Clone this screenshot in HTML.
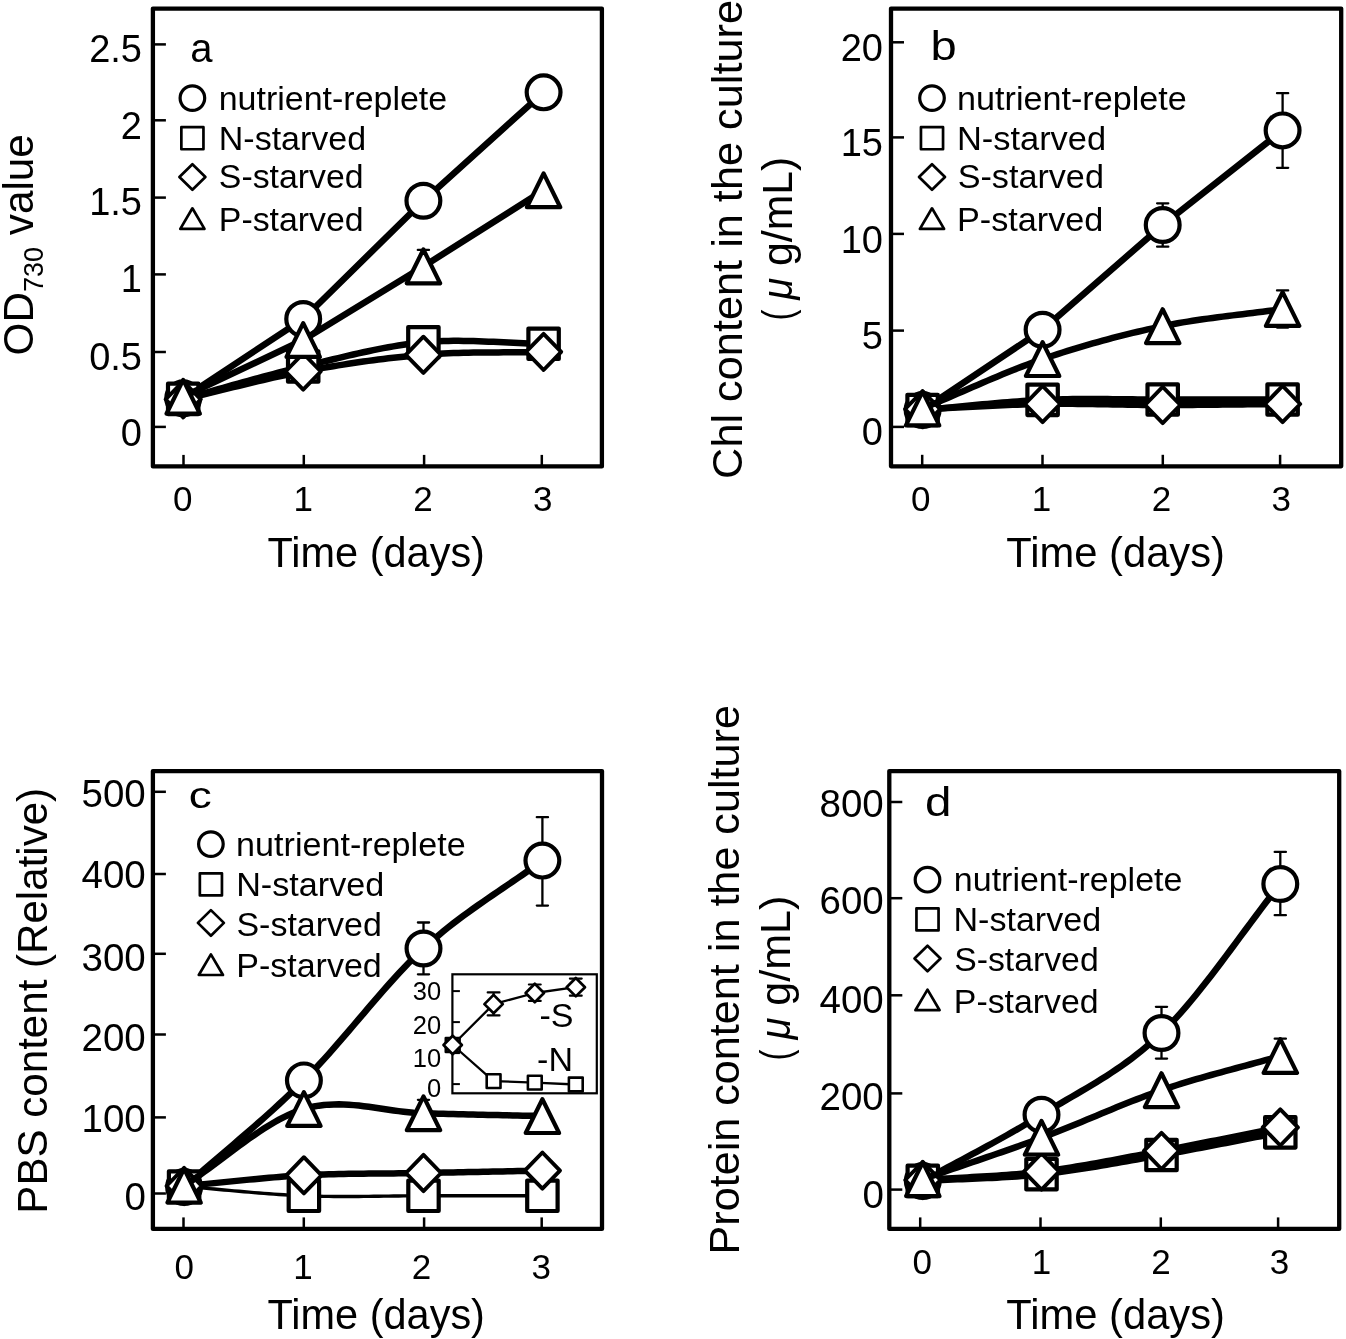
<!DOCTYPE html>
<html><head><meta charset="utf-8"><style>
html,body{margin:0;padding:0;background:#fff;}
body{width:1346px;height:1339px;overflow:hidden;font-family:"Liberation Sans", sans-serif;}
svg{display:block;will-change:transform;-webkit-font-smoothing:antialiased;}
</style></head><body>
<svg width="1346" height="1339" viewBox="0 0 1346 1339" font-family='"Liberation Sans", sans-serif'>
<rect width="1346" height="1339" fill="#fff"/>
<rect x="152.9" y="8.6" width="449" height="457.8" fill="none" stroke="#000" stroke-width="4.3" stroke-linejoin="round"/>
<path d="M183.5 466.4V454.9" stroke="#000" stroke-width="2.5"/>
<path d="M303.8 466.4V454.9" stroke="#000" stroke-width="2.5"/>
<path d="M424.1 466.4V454.9" stroke="#000" stroke-width="2.5"/>
<path d="M541.8 466.4V454.9" stroke="#000" stroke-width="2.5"/>
<path d="M152.9 426.9H165.9" stroke="#000" stroke-width="2.5"/>
<text x="142" y="445.6" font-size="38" text-anchor="end">0</text>
<path d="M152.9 352H165.9" stroke="#000" stroke-width="2.5"/>
<text x="142" y="369.6" font-size="38" text-anchor="end">0.5</text>
<path d="M152.9 274.4H165.9" stroke="#000" stroke-width="2.5"/>
<text x="142" y="291.8" font-size="38" text-anchor="end">1</text>
<path d="M152.9 197.6H165.9" stroke="#000" stroke-width="2.5"/>
<text x="142" y="215.4" font-size="38" text-anchor="end">1.5</text>
<path d="M152.9 120.3H165.9" stroke="#000" stroke-width="2.5"/>
<text x="142" y="139" font-size="38" text-anchor="end">2</text>
<path d="M152.9 44.4H165.9" stroke="#000" stroke-width="2.5"/>
<text x="142" y="61.6" font-size="38" text-anchor="end">2.5</text>
<text x="182.8" y="511.2" font-size="35" text-anchor="middle">0</text>
<text x="303.2" y="511.2" font-size="35" text-anchor="middle">1</text>
<text x="423" y="511.2" font-size="35" text-anchor="middle">2</text>
<text x="542.8" y="511.2" font-size="35" text-anchor="middle">3</text>
<path d="M183.2 398.2 L303.2 319 L423.4 200.8 L543.6 92.35" fill="none" stroke="#000" stroke-width="6.5" stroke-linejoin="round" stroke-linecap="round"/>
<circle cx="183.2" cy="398.2" r="16.9" fill="#fff" stroke="#000" stroke-width="4.2"/>
<circle cx="303.2" cy="319" r="16.9" fill="#fff" stroke="#000" stroke-width="4.2"/>
<circle cx="423.4" cy="200.8" r="16.9" fill="#fff" stroke="#000" stroke-width="4.2"/>
<circle cx="543.6" cy="92.35" r="16.9" fill="#fff" stroke="#000" stroke-width="4.2"/>
<path d="M183.2 398.9 L188.2 397.54 L193.2 396.17 L198.2 394.79 L203.2 393.41 L208.2 392.01 L213.2 390.61 L218.19 389.2 L223.19 387.8 L228.19 386.39 L233.19 384.98 L238.19 383.58 L243.19 382.19 L248.19 380.8 L253.19 379.42 L258.19 378.05 L263.19 376.69 L268.19 375.35 L273.19 374.02 L278.19 372.71 L283.19 371.43 L288.19 370.16 L293.19 368.91 L298.2 367.69 L303.2 366.5 L308.2 365.31 L313.21 364.11 L318.22 362.91 L323.22 361.69 L328.23 360.48 L333.24 359.27 L338.24 358.07 L343.25 356.87 L348.26 355.7 L353.27 354.53 L358.28 353.39 L363.29 352.28 L368.3 351.2 L373.31 350.15 L378.32 349.13 L383.33 348.16 L388.34 347.23 L393.35 346.35 L398.35 345.52 L403.36 344.75 L408.37 344.04 L413.38 343.39 L418.39 342.81 L423.4 342.3 L428.41 341.87 L433.42 341.53 L438.42 341.26 L443.43 341.06 L448.44 340.93 L453.45 340.87 L458.46 340.86 L463.47 340.9 L468.47 340.98 L473.48 341.1 L478.49 341.26 L483.5 341.44 L488.51 341.65 L493.52 341.87 L498.52 342.11 L503.53 342.35 L508.54 342.59 L513.55 342.82 L518.56 343.05 L523.57 343.25 L528.57 343.44 L533.58 343.59 L538.59 343.72 L543.6 343.8" fill="none" stroke="#000" stroke-width="6.5" stroke-linejoin="round" stroke-linecap="round"/>
<rect x="168" y="383.7" width="30.4" height="30.4" fill="#fff" stroke="#000" stroke-width="4.2" stroke-linejoin="round"/>
<rect x="288" y="351.3" width="30.4" height="30.4" fill="#fff" stroke="#000" stroke-width="4.2" stroke-linejoin="round"/>
<rect x="408.2" y="327.1" width="30.4" height="30.4" fill="#fff" stroke="#000" stroke-width="4.2" stroke-linejoin="round"/>
<rect x="528.4" y="328.6" width="30.4" height="30.4" fill="#fff" stroke="#000" stroke-width="4.2" stroke-linejoin="round"/>
<path d="M183.2 399.4 L188.2 398.23 L193.2 397.04 L198.2 395.84 L203.2 394.62 L208.2 393.4 L213.2 392.16 L218.19 390.93 L223.19 389.69 L228.19 388.45 L233.19 387.21 L238.19 385.98 L243.19 384.75 L248.19 383.53 L253.19 382.33 L258.19 381.14 L263.19 379.97 L268.19 378.82 L273.19 377.69 L278.19 376.58 L283.19 375.5 L288.19 374.45 L293.19 373.43 L298.2 372.45 L303.2 371.5 L308.2 370.58 L313.21 369.67 L318.22 368.78 L323.22 367.91 L328.23 367.05 L333.24 366.21 L338.24 365.39 L343.25 364.59 L348.26 363.81 L353.27 363.05 L358.28 362.31 L363.29 361.59 L368.3 360.89 L373.31 360.21 L378.32 359.56 L383.33 358.93 L388.34 358.32 L393.35 357.74 L398.35 357.19 L403.36 356.66 L408.37 356.15 L413.38 355.67 L418.39 355.22 L423.4 354.8 L428.41 354.42 L433.42 354.08 L438.42 353.78 L443.43 353.52 L448.44 353.29 L453.45 353.1 L458.46 352.94 L463.47 352.81 L468.47 352.7 L473.48 352.61 L478.49 352.54 L483.5 352.49 L488.51 352.44 L493.52 352.41 L498.52 352.38 L503.53 352.36 L508.54 352.33 L513.55 352.3 L518.56 352.27 L523.57 352.22 L528.57 352.17 L533.58 352.1 L538.59 352.01 L543.6 351.9" fill="none" stroke="#000" stroke-width="6.5" stroke-linejoin="round" stroke-linecap="round"/>
<path d="M183.2 381.3L200.8 399.4L183.2 417.5L165.6 399.4Z" fill="#fff" stroke="#000" stroke-width="3.9" stroke-linejoin="round"/>
<path d="M303.2 353.4L320.8 371.5L303.2 389.6L285.6 371.5Z" fill="#fff" stroke="#000" stroke-width="3.9" stroke-linejoin="round"/>
<path d="M423.4 336.7L441 354.8L423.4 372.9L405.8 354.8Z" fill="#fff" stroke="#000" stroke-width="3.9" stroke-linejoin="round"/>
<path d="M543.6 333.8L561.2 351.9L543.6 370L526 351.9Z" fill="#fff" stroke="#000" stroke-width="3.9" stroke-linejoin="round"/>
<path d="M183.2 396.8 L303.2 340 L423.4 266.4 L543.6 190.3" fill="none" stroke="#000" stroke-width="6.5" stroke-linejoin="round" stroke-linecap="round"/>
<path d="M423.4 249.9V282.9M417.8 249.9H429M417.8 282.9H429" fill="none" stroke="#000" stroke-width="2.3" stroke-linecap="round"/>
<path d="M183.2 379.9L199.9 413.7L166.5 413.7Z" fill="#fff" stroke="#000" stroke-width="4.2" stroke-linejoin="round"/>
<path d="M303.2 323.1L319.9 356.9L286.5 356.9Z" fill="#fff" stroke="#000" stroke-width="4.2" stroke-linejoin="round"/>
<path d="M423.4 249.5L440.1 283.3L406.7 283.3Z" fill="#fff" stroke="#000" stroke-width="4.2" stroke-linejoin="round"/>
<path d="M543.6 173.4L560.3 207.2L526.9 207.2Z" fill="#fff" stroke="#000" stroke-width="4.2" stroke-linejoin="round"/>
<rect x="891" y="8.6" width="450.2" height="457.7" fill="none" stroke="#000" stroke-width="4.3" stroke-linejoin="round"/>
<path d="M922.2 466.3V454.8" stroke="#000" stroke-width="2.5"/>
<path d="M1042.5 466.3V454.8" stroke="#000" stroke-width="2.5"/>
<path d="M1162.8 466.3V454.8" stroke="#000" stroke-width="2.5"/>
<path d="M1280.1 466.3V454.8" stroke="#000" stroke-width="2.5"/>
<path d="M891 426.9H904" stroke="#000" stroke-width="2.5"/>
<text x="883" y="445.4" font-size="38" text-anchor="end">0</text>
<path d="M891 330.6H904" stroke="#000" stroke-width="2.5"/>
<text x="883" y="349.2" font-size="38" text-anchor="end">5</text>
<path d="M891 233.9H904" stroke="#000" stroke-width="2.5"/>
<text x="883" y="252.6" font-size="38" text-anchor="end">10</text>
<path d="M891 137.4H904" stroke="#000" stroke-width="2.5"/>
<text x="883" y="156.2" font-size="38" text-anchor="end">15</text>
<path d="M891 42.3H904" stroke="#000" stroke-width="2.5"/>
<text x="883" y="60.6" font-size="38" text-anchor="end">20</text>
<text x="920.8" y="510.8" font-size="35" text-anchor="middle">0</text>
<text x="1041.4" y="510.8" font-size="35" text-anchor="middle">1</text>
<text x="1161.5" y="510.8" font-size="35" text-anchor="middle">2</text>
<text x="1281.2" y="510.8" font-size="35" text-anchor="middle">3</text>
<path d="M922.6 410 L1042.6 329.8 L1162.7 225 L1282.6 130.4" fill="none" stroke="#000" stroke-width="6.5" stroke-linejoin="round" stroke-linecap="round"/>
<path d="M1162.7 203.3V246.7M1157.1 203.3H1168.3M1157.1 246.7H1168.3" fill="none" stroke="#000" stroke-width="2.3" stroke-linecap="round"/>
<path d="M1282.6 93.2V167.8M1277 93.2H1288.2M1277 167.8H1288.2" fill="none" stroke="#000" stroke-width="2.3" stroke-linecap="round"/>
<circle cx="922.6" cy="410" r="16.9" fill="#fff" stroke="#000" stroke-width="4.2"/>
<circle cx="1042.6" cy="329.8" r="16.9" fill="#fff" stroke="#000" stroke-width="4.2"/>
<circle cx="1162.7" cy="225" r="16.9" fill="#fff" stroke="#000" stroke-width="4.2"/>
<circle cx="1282.6" cy="130.4" r="16.9" fill="#fff" stroke="#000" stroke-width="4.2"/>
<path d="M922.6 410 L927.6 409.57 L932.6 409.13 L937.6 408.67 L942.6 408.2 L947.6 407.73 L952.6 407.25 L957.6 406.76 L962.6 406.27 L967.6 405.79 L972.59 405.3 L977.59 404.82 L982.59 404.34 L987.59 403.88 L992.59 403.42 L997.59 402.98 L1002.59 402.55 L1007.59 402.14 L1012.59 401.74 L1017.59 401.37 L1022.59 401.02 L1027.6 400.7 L1032.6 400.4 L1037.6 400.14 L1042.6 399.9 L1047.6 399.7 L1052.61 399.53 L1057.61 399.38 L1062.61 399.27 L1067.62 399.18 L1072.62 399.11 L1077.63 399.06 L1082.63 399.03 L1087.64 399.02 L1092.64 399.03 L1097.65 399.04 L1102.66 399.07 L1107.66 399.1 L1112.67 399.15 L1117.67 399.19 L1122.68 399.24 L1127.68 399.3 L1132.69 399.34 L1137.69 399.39 L1142.69 399.43 L1147.7 399.46 L1152.7 399.49 L1157.7 399.5 L1162.7 399.5 L1167.7 399.49 L1172.7 399.49 L1177.7 399.48 L1182.69 399.48 L1187.69 399.47 L1192.69 399.47 L1197.69 399.47 L1202.68 399.47 L1207.68 399.47 L1212.67 399.47 L1217.67 399.47 L1222.66 399.48 L1227.66 399.48 L1232.65 399.48 L1237.65 399.48 L1242.64 399.49 L1247.64 399.49 L1252.63 399.49 L1257.62 399.49 L1262.62 399.5 L1267.61 399.5 L1272.61 399.5 L1277.6 399.5 L1282.6 399.5" fill="none" stroke="#000" stroke-width="6.5" stroke-linejoin="round" stroke-linecap="round"/>
<rect x="907.4" y="394.8" width="30.4" height="30.4" fill="#fff" stroke="#000" stroke-width="4.2" stroke-linejoin="round"/>
<rect x="1027.4" y="384.7" width="30.4" height="30.4" fill="#fff" stroke="#000" stroke-width="4.2" stroke-linejoin="round"/>
<rect x="1147.5" y="384.3" width="30.4" height="30.4" fill="#fff" stroke="#000" stroke-width="4.2" stroke-linejoin="round"/>
<rect x="1267.4" y="384.3" width="30.4" height="30.4" fill="#fff" stroke="#000" stroke-width="4.2" stroke-linejoin="round"/>
<path d="M922.6 409.2 L927.6 408.98 L932.6 408.75 L937.6 408.51 L942.6 408.26 L947.6 408.01 L952.6 407.75 L957.6 407.5 L962.6 407.24 L967.6 406.98 L972.59 406.72 L977.59 406.46 L982.59 406.21 L987.59 405.97 L992.59 405.73 L997.59 405.5 L1002.59 405.27 L1007.59 405.06 L1012.59 404.86 L1017.59 404.68 L1022.59 404.51 L1027.6 404.35 L1032.6 404.22 L1037.6 404.1 L1042.6 404 L1047.6 403.92 L1052.61 403.87 L1057.61 403.84 L1062.61 403.83 L1067.62 403.84 L1072.62 403.86 L1077.63 403.9 L1082.63 403.95 L1087.64 404.01 L1092.64 404.08 L1097.65 404.16 L1102.66 404.24 L1107.66 404.32 L1112.67 404.41 L1117.67 404.5 L1122.68 404.59 L1127.68 404.67 L1132.69 404.75 L1137.69 404.82 L1142.69 404.88 L1147.7 404.93 L1152.7 404.97 L1157.7 404.99 L1162.7 405 L1167.7 405 L1172.7 404.99 L1177.7 404.97 L1182.69 404.95 L1187.69 404.92 L1192.69 404.89 L1197.69 404.85 L1202.68 404.81 L1207.68 404.77 L1212.67 404.73 L1217.67 404.68 L1222.66 404.62 L1227.66 404.57 L1232.65 404.52 L1237.65 404.46 L1242.64 404.41 L1247.64 404.35 L1252.63 404.3 L1257.62 404.24 L1262.62 404.19 L1267.61 404.14 L1272.61 404.09 L1277.6 404.04 L1282.6 404" fill="none" stroke="#000" stroke-width="6.5" stroke-linejoin="round" stroke-linecap="round"/>
<path d="M922.6 391.1L940.2 409.2L922.6 427.3L905 409.2Z" fill="#fff" stroke="#000" stroke-width="3.9" stroke-linejoin="round"/>
<path d="M1042.6 385.9L1060.2 404L1042.6 422.1L1025 404Z" fill="#fff" stroke="#000" stroke-width="3.9" stroke-linejoin="round"/>
<path d="M1162.7 386.9L1180.3 405L1162.7 423.1L1145.1 405Z" fill="#fff" stroke="#000" stroke-width="3.9" stroke-linejoin="round"/>
<path d="M1282.6 385.9L1300.2 404L1282.6 422.1L1265 404Z" fill="#fff" stroke="#000" stroke-width="3.9" stroke-linejoin="round"/>
<path d="M922.6 408.5 L927.6 406.43 L932.6 404.33 L937.6 402.21 L942.6 400.08 L947.6 397.92 L952.6 395.76 L957.6 393.59 L962.6 391.42 L967.6 389.25 L972.59 387.08 L977.59 384.92 L982.59 382.77 L987.59 380.63 L992.59 378.51 L997.59 376.42 L1002.59 374.34 L1007.59 372.3 L1012.59 370.29 L1017.59 368.31 L1022.59 366.38 L1027.6 364.49 L1032.6 362.64 L1037.6 360.84 L1042.6 359.1 L1047.6 357.4 L1052.61 355.73 L1057.61 354.09 L1062.61 352.48 L1067.62 350.9 L1072.62 349.35 L1077.63 347.82 L1082.63 346.33 L1087.64 344.86 L1092.64 343.43 L1097.65 342.02 L1102.66 340.64 L1107.66 339.28 L1112.67 337.96 L1117.67 336.66 L1122.68 335.39 L1127.68 334.15 L1132.69 332.93 L1137.69 331.75 L1142.69 330.58 L1147.7 329.45 L1152.7 328.34 L1157.7 327.26 L1162.7 326.2 L1167.7 325.18 L1172.7 324.22 L1177.7 323.3 L1182.69 322.42 L1187.69 321.59 L1192.69 320.8 L1197.69 320.03 L1202.68 319.3 L1207.68 318.6 L1212.67 317.92 L1217.67 317.26 L1222.66 316.62 L1227.66 315.99 L1232.65 315.37 L1237.65 314.76 L1242.64 314.15 L1247.64 313.54 L1252.63 312.93 L1257.62 312.31 L1262.62 311.68 L1267.61 311.04 L1272.61 310.38 L1277.6 309.7 L1282.6 309" fill="none" stroke="#000" stroke-width="6.5" stroke-linejoin="round" stroke-linecap="round"/>
<path d="M1282.6 290.4V327.6M1277 290.4H1288.2M1277 327.6H1288.2" fill="none" stroke="#000" stroke-width="2.3" stroke-linecap="round"/>
<path d="M922.6 391.6L939.3 425.4L905.9 425.4Z" fill="#fff" stroke="#000" stroke-width="4.2" stroke-linejoin="round"/>
<path d="M1042.6 342.2L1059.3 376L1025.9 376Z" fill="#fff" stroke="#000" stroke-width="4.2" stroke-linejoin="round"/>
<path d="M1162.7 309.3L1179.4 343.1L1146 343.1Z" fill="#fff" stroke="#000" stroke-width="4.2" stroke-linejoin="round"/>
<path d="M1282.6 292.1L1299.3 325.9L1265.9 325.9Z" fill="#fff" stroke="#000" stroke-width="4.2" stroke-linejoin="round"/>
<rect x="152.9" y="771.1" width="449.1" height="457.8" fill="none" stroke="#000" stroke-width="4.3" stroke-linejoin="round"/>
<path d="M183.5 1228.9V1217.4" stroke="#000" stroke-width="2.5"/>
<path d="M303.8 1228.9V1217.4" stroke="#000" stroke-width="2.5"/>
<path d="M424.1 1228.9V1217.4" stroke="#000" stroke-width="2.5"/>
<path d="M541.7 1228.9V1217.4" stroke="#000" stroke-width="2.5"/>
<path d="M152.9 1193.5H165.9" stroke="#000" stroke-width="2.5"/>
<text x="145.8" y="1209.5" font-size="38.5" text-anchor="end">0</text>
<path d="M152.9 1117.4H165.9" stroke="#000" stroke-width="2.5"/>
<text x="145.8" y="1132.3" font-size="38.5" text-anchor="end">100</text>
<path d="M152.9 1034.5H165.9" stroke="#000" stroke-width="2.5"/>
<text x="145.8" y="1050.8" font-size="38.5" text-anchor="end">200</text>
<path d="M152.9 953.8H165.9" stroke="#000" stroke-width="2.5"/>
<text x="145.8" y="970.5" font-size="38.5" text-anchor="end">300</text>
<path d="M152.9 874H165.9" stroke="#000" stroke-width="2.5"/>
<text x="145.8" y="888" font-size="38.5" text-anchor="end">400</text>
<path d="M152.9 791.8H165.9" stroke="#000" stroke-width="2.5"/>
<text x="145.8" y="806.6" font-size="38.5" text-anchor="end">500</text>
<text x="184.2" y="1278.5" font-size="35" text-anchor="middle">0</text>
<text x="302.9" y="1278.5" font-size="35" text-anchor="middle">1</text>
<text x="421.5" y="1278.5" font-size="35" text-anchor="middle">2</text>
<text x="541.2" y="1278.5" font-size="35" text-anchor="middle">3</text>
<path d="M184.1 1187 L189.09 1182.58 L194.08 1178.2 L199.08 1173.85 L204.07 1169.53 L209.06 1165.23 L214.05 1160.94 L219.05 1156.67 L224.04 1152.4 L229.03 1148.14 L234.03 1143.86 L239.02 1139.58 L244.01 1135.28 L249.01 1130.96 L254 1126.61 L258.99 1122.23 L263.98 1117.81 L268.97 1113.34 L273.96 1108.83 L278.95 1104.26 L283.94 1099.63 L288.93 1094.94 L293.92 1090.17 L298.91 1085.33 L303.9 1080.4 L308.89 1075.35 L313.88 1070.15 L318.86 1064.82 L323.85 1059.37 L328.84 1053.82 L333.83 1048.17 L338.82 1042.45 L343.81 1036.68 L348.8 1030.86 L353.78 1025.01 L358.77 1019.14 L363.76 1013.28 L368.74 1007.44 L373.73 1001.62 L378.71 995.85 L383.69 990.14 L388.67 984.51 L393.65 978.97 L398.63 973.54 L403.61 968.23 L408.58 963.05 L413.56 958.03 L418.53 953.18 L423.5 948.5 L428.47 944 L433.43 939.63 L438.4 935.41 L443.36 931.3 L448.32 927.31 L453.27 923.43 L458.23 919.64 L463.19 915.94 L468.14 912.31 L473.09 908.76 L478.04 905.25 L482.99 901.8 L487.94 898.38 L492.89 895 L497.84 891.63 L502.79 888.27 L507.74 884.91 L512.69 881.54 L517.64 878.16 L522.59 874.74 L527.54 871.29 L532.49 867.78 L537.45 864.23 L542.4 860.6" fill="none" stroke="#000" stroke-width="6.5" stroke-linejoin="round" stroke-linecap="round"/>
<path d="M423.5 922.5V974.3M417.9 922.5H429.1M417.9 974.3H429.1" fill="none" stroke="#000" stroke-width="2.3" stroke-linecap="round"/>
<path d="M542.4 817.2V905.6M536.8 817.2H548M536.8 905.6H548" fill="none" stroke="#000" stroke-width="2.3" stroke-linecap="round"/>
<circle cx="184.1" cy="1187" r="16.9" fill="#fff" stroke="#000" stroke-width="4.2"/>
<circle cx="303.9" cy="1080.4" r="16.9" fill="#fff" stroke="#000" stroke-width="4.2"/>
<circle cx="423.5" cy="948.5" r="16.9" fill="#fff" stroke="#000" stroke-width="4.2"/>
<circle cx="542.4" cy="860.6" r="16.9" fill="#fff" stroke="#000" stroke-width="4.2"/>
<path d="M184.1 1186.5 L189.09 1186.9 L194.08 1187.3 L199.08 1187.73 L204.07 1188.16 L209.06 1188.6 L214.05 1189.04 L219.05 1189.49 L224.04 1189.94 L229.03 1190.4 L234.03 1190.85 L239.02 1191.29 L244.01 1191.73 L249.01 1192.16 L254 1192.58 L258.99 1192.99 L263.98 1193.39 L268.97 1193.77 L273.96 1194.13 L278.95 1194.47 L283.94 1194.79 L288.93 1195.08 L293.92 1195.35 L298.91 1195.59 L303.9 1195.8 L308.89 1195.98 L313.88 1196.13 L318.86 1196.25 L323.85 1196.34 L328.84 1196.41 L333.83 1196.45 L338.82 1196.48 L343.81 1196.49 L348.8 1196.48 L353.78 1196.46 L358.77 1196.43 L363.76 1196.38 L368.74 1196.33 L373.73 1196.27 L378.71 1196.21 L383.69 1196.14 L388.67 1196.08 L393.65 1196.02 L398.63 1195.96 L403.61 1195.91 L408.58 1195.86 L413.56 1195.83 L418.53 1195.81 L423.5 1195.8 L428.47 1195.8 L433.43 1195.8 L438.4 1195.8 L443.36 1195.8 L448.32 1195.8 L453.27 1195.8 L458.23 1195.8 L463.19 1195.8 L468.14 1195.8 L473.09 1195.8 L478.04 1195.8 L482.99 1195.8 L487.94 1195.8 L492.89 1195.8 L497.84 1195.8 L502.79 1195.8 L507.74 1195.8 L512.69 1195.8 L517.64 1195.8 L522.59 1195.8 L527.54 1195.8 L532.49 1195.8 L537.45 1195.8 L542.4 1195.8" fill="none" stroke="#000" stroke-width="3.4" stroke-linejoin="round" stroke-linecap="round"/>
<rect x="168.9" y="1171.3" width="30.4" height="30.4" fill="#fff" stroke="#000" stroke-width="4.2" stroke-linejoin="round"/>
<rect x="288.7" y="1180.6" width="30.4" height="30.4" fill="#fff" stroke="#000" stroke-width="4.2" stroke-linejoin="round"/>
<rect x="408.3" y="1180.6" width="30.4" height="30.4" fill="#fff" stroke="#000" stroke-width="4.2" stroke-linejoin="round"/>
<rect x="527.2" y="1180.6" width="30.4" height="30.4" fill="#fff" stroke="#000" stroke-width="4.2" stroke-linejoin="round"/>
<path d="M184.1 1186 L189.09 1185.55 L194.08 1185.08 L199.08 1184.61 L204.07 1184.12 L209.06 1183.63 L214.05 1183.13 L219.05 1182.63 L224.04 1182.12 L229.03 1181.62 L234.03 1181.12 L239.02 1180.62 L244.01 1180.13 L249.01 1179.64 L254 1179.16 L258.99 1178.7 L263.98 1178.24 L268.97 1177.81 L273.96 1177.38 L278.95 1176.98 L283.94 1176.6 L288.93 1176.24 L293.92 1175.9 L298.91 1175.59 L303.9 1175.3 L308.89 1175.04 L313.88 1174.81 L318.86 1174.61 L323.85 1174.43 L328.84 1174.27 L333.83 1174.14 L338.82 1174.02 L343.81 1173.91 L348.8 1173.83 L353.78 1173.75 L358.77 1173.69 L363.76 1173.63 L368.74 1173.58 L373.73 1173.54 L378.71 1173.5 L383.69 1173.46 L388.67 1173.43 L393.65 1173.39 L398.63 1173.34 L403.61 1173.29 L408.58 1173.23 L413.56 1173.17 L418.53 1173.09 L423.5 1173 L428.47 1172.9 L433.43 1172.8 L438.4 1172.7 L443.36 1172.61 L448.32 1172.51 L453.27 1172.41 L458.23 1172.31 L463.19 1172.21 L468.14 1172.11 L473.09 1172.01 L478.04 1171.91 L482.99 1171.81 L487.94 1171.71 L492.89 1171.61 L497.84 1171.5 L502.79 1171.4 L507.74 1171.3 L512.69 1171.2 L517.64 1171.1 L522.59 1171 L527.54 1170.9 L532.49 1170.8 L537.45 1170.7 L542.4 1170.6" fill="none" stroke="#000" stroke-width="6.5" stroke-linejoin="round" stroke-linecap="round"/>
<path d="M184.1 1167.9L201.7 1186L184.1 1204.1L166.5 1186Z" fill="#fff" stroke="#000" stroke-width="3.9" stroke-linejoin="round"/>
<path d="M303.9 1157.2L321.5 1175.3L303.9 1193.4L286.3 1175.3Z" fill="#fff" stroke="#000" stroke-width="3.9" stroke-linejoin="round"/>
<path d="M423.5 1154.9L441.1 1173L423.5 1191.1L405.9 1173Z" fill="#fff" stroke="#000" stroke-width="3.9" stroke-linejoin="round"/>
<path d="M542.4 1152.5L560 1170.6L542.4 1188.7L524.8 1170.6Z" fill="#fff" stroke="#000" stroke-width="3.9" stroke-linejoin="round"/>
<path d="M184.1 1185.7 L189.09 1182.44 L194.08 1179.05 L199.08 1175.56 L204.07 1171.98 L209.06 1168.33 L214.05 1164.63 L219.05 1160.89 L224.04 1157.13 L229.03 1153.38 L234.03 1149.64 L239.02 1145.94 L244.01 1142.29 L249.01 1138.71 L254 1135.22 L258.99 1131.83 L263.98 1128.57 L268.97 1125.44 L273.96 1122.48 L278.95 1119.69 L283.94 1117.1 L288.93 1114.71 L293.92 1112.56 L298.91 1110.65 L303.9 1109 L308.89 1107.63 L313.88 1106.53 L318.86 1105.67 L323.85 1105.05 L328.84 1104.63 L333.83 1104.41 L338.82 1104.37 L343.81 1104.49 L348.8 1104.75 L353.78 1105.13 L358.77 1105.61 L363.76 1106.18 L368.74 1106.82 L373.73 1107.51 L378.71 1108.24 L383.69 1108.98 L388.67 1109.72 L393.65 1110.43 L398.63 1111.11 L403.61 1111.73 L408.58 1112.28 L413.56 1112.74 L418.53 1113.08 L423.5 1113.3 L428.47 1113.45 L433.43 1113.59 L438.4 1113.72 L443.36 1113.85 L448.32 1113.98 L453.27 1114.11 L458.23 1114.23 L463.19 1114.34 L468.14 1114.46 L473.09 1114.57 L478.04 1114.68 L482.99 1114.79 L487.94 1114.9 L492.89 1115.01 L497.84 1115.12 L502.79 1115.22 L507.74 1115.33 L512.69 1115.44 L517.64 1115.54 L522.59 1115.65 L527.54 1115.76 L532.49 1115.87 L537.45 1115.98 L542.4 1116.1" fill="none" stroke="#000" stroke-width="6.5" stroke-linejoin="round" stroke-linecap="round"/>
<path d="M423.5 1099.8V1126.8M417.9 1099.8H429.1M417.9 1126.8H429.1" fill="none" stroke="#000" stroke-width="2.3" stroke-linecap="round"/>
<path d="M184.1 1168.8L200.8 1202.6L167.4 1202.6Z" fill="#fff" stroke="#000" stroke-width="4.2" stroke-linejoin="round"/>
<path d="M303.9 1092.1L320.6 1125.9L287.2 1125.9Z" fill="#fff" stroke="#000" stroke-width="4.2" stroke-linejoin="round"/>
<path d="M423.5 1096.4L440.2 1130.2L406.8 1130.2Z" fill="#fff" stroke="#000" stroke-width="4.2" stroke-linejoin="round"/>
<path d="M542.4 1099.2L559.1 1133L525.7 1133Z" fill="#fff" stroke="#000" stroke-width="4.2" stroke-linejoin="round"/>
<rect x="889.3" y="771.1" width="449.9" height="457.8" fill="none" stroke="#000" stroke-width="4.3" stroke-linejoin="round"/>
<path d="M920.2 1228.9V1217.4" stroke="#000" stroke-width="2.5"/>
<path d="M1040.5 1228.9V1217.4" stroke="#000" stroke-width="2.5"/>
<path d="M1160.8 1228.9V1217.4" stroke="#000" stroke-width="2.5"/>
<path d="M1278.1 1228.9V1217.4" stroke="#000" stroke-width="2.5"/>
<path d="M889.3 1189.6H902.3" stroke="#000" stroke-width="2.5"/>
<text x="883.8" y="1208" font-size="38.5" text-anchor="end">0</text>
<path d="M889.3 1093.4H902.3" stroke="#000" stroke-width="2.5"/>
<text x="883.8" y="1110" font-size="38.5" text-anchor="end">200</text>
<path d="M889.3 995.3H902.3" stroke="#000" stroke-width="2.5"/>
<text x="883.8" y="1012.8" font-size="38.5" text-anchor="end">400</text>
<path d="M889.3 898.2H902.3" stroke="#000" stroke-width="2.5"/>
<text x="883.8" y="914.2" font-size="38.5" text-anchor="end">600</text>
<path d="M889.3 802H902.3" stroke="#000" stroke-width="2.5"/>
<text x="883.8" y="816.5" font-size="38.5" text-anchor="end">800</text>
<text x="922.3" y="1273.6" font-size="35" text-anchor="middle">0</text>
<text x="1041.4" y="1273.6" font-size="35" text-anchor="middle">1</text>
<text x="1160.9" y="1273.6" font-size="35" text-anchor="middle">2</text>
<text x="1279.4" y="1273.6" font-size="35" text-anchor="middle">3</text>
<path d="M922.8 1181 L927.74 1178.25 L932.69 1175.53 L937.63 1172.83 L942.57 1170.15 L947.51 1167.48 L952.44 1164.82 L957.38 1162.16 L962.32 1159.51 L967.26 1156.86 L972.19 1154.21 L977.13 1151.55 L982.07 1148.88 L987.01 1146.19 L991.95 1143.49 L996.89 1140.77 L1001.84 1138.02 L1006.78 1135.25 L1011.73 1132.45 L1016.69 1129.61 L1021.64 1126.74 L1026.6 1123.82 L1031.56 1120.86 L1036.53 1117.86 L1041.5 1114.8 L1046.48 1111.75 L1051.46 1108.74 L1056.45 1105.78 L1061.44 1102.85 L1066.44 1099.93 L1071.44 1097.02 L1076.44 1094.11 L1081.45 1091.18 L1086.46 1088.22 L1091.47 1085.23 L1096.48 1082.18 L1101.49 1079.07 L1106.51 1075.9 L1111.52 1072.64 L1116.53 1069.28 L1121.54 1065.82 L1126.55 1062.25 L1131.55 1058.54 L1136.56 1054.7 L1141.55 1050.7 L1146.55 1046.55 L1151.54 1042.22 L1156.52 1037.71 L1161.5 1033 L1166.47 1028.08 L1171.44 1022.94 L1176.41 1017.59 L1181.37 1012.06 L1186.33 1006.35 L1191.28 1000.47 L1196.24 994.46 L1201.19 988.31 L1206.14 982.05 L1211.09 975.68 L1216.03 969.23 L1220.98 962.7 L1225.92 956.11 L1230.86 949.49 L1235.8 942.83 L1240.74 936.16 L1245.69 929.48 L1250.63 922.82 L1255.57 916.2 L1260.51 909.61 L1265.46 903.08 L1270.4 896.63 L1275.35 890.26 L1280.3 884" fill="none" stroke="#000" stroke-width="6.5" stroke-linejoin="round" stroke-linecap="round"/>
<path d="M1161.5 1006.8V1058.6M1155.9 1006.8H1167.1M1155.9 1058.6H1167.1" fill="none" stroke="#000" stroke-width="2.3" stroke-linecap="round"/>
<path d="M1280.3 851.9V915.2M1274.7 851.9H1285.9M1274.7 915.2H1285.9" fill="none" stroke="#000" stroke-width="2.3" stroke-linecap="round"/>
<circle cx="922.8" cy="1181" r="16.9" fill="#fff" stroke="#000" stroke-width="4.2"/>
<circle cx="1041.5" cy="1114.8" r="16.9" fill="#fff" stroke="#000" stroke-width="4.2"/>
<circle cx="1161.5" cy="1033" r="16.9" fill="#fff" stroke="#000" stroke-width="4.2"/>
<circle cx="1280.3" cy="884" r="16.9" fill="#fff" stroke="#000" stroke-width="4.2"/>
<path d="M922.8 1180.9 L927.74 1180.63 L932.69 1180.38 L937.63 1180.15 L942.57 1179.93 L947.51 1179.72 L952.44 1179.52 L957.38 1179.32 L962.32 1179.13 L967.26 1178.94 L972.19 1178.74 L977.13 1178.54 L982.07 1178.33 L987.01 1178.11 L991.95 1177.88 L996.89 1177.63 L1001.84 1177.36 L1006.78 1177.07 L1011.73 1176.75 L1016.69 1176.41 L1021.64 1176.04 L1026.6 1175.64 L1031.56 1175.2 L1036.53 1174.72 L1041.5 1174.2 L1046.48 1173.64 L1051.46 1173.05 L1056.45 1172.42 L1061.44 1171.76 L1066.44 1171.07 L1071.44 1170.36 L1076.44 1169.62 L1081.45 1168.85 L1086.46 1168.06 L1091.47 1167.26 L1096.48 1166.43 L1101.49 1165.59 L1106.51 1164.74 L1111.52 1163.87 L1116.53 1163 L1121.54 1162.11 L1126.55 1161.23 L1131.55 1160.33 L1136.56 1159.44 L1141.55 1158.54 L1146.55 1157.65 L1151.54 1156.76 L1156.52 1155.88 L1161.5 1155 L1166.47 1154.12 L1171.44 1153.24 L1176.41 1152.34 L1181.37 1151.43 L1186.33 1150.51 L1191.28 1149.59 L1196.24 1148.66 L1201.19 1147.72 L1206.14 1146.77 L1211.09 1145.82 L1216.03 1144.87 L1220.98 1143.91 L1225.92 1142.95 L1230.86 1141.99 L1235.8 1141.02 L1240.74 1140.06 L1245.69 1139.09 L1250.63 1138.13 L1255.57 1137.17 L1260.51 1136.21 L1265.46 1135.25 L1270.4 1134.29 L1275.35 1133.34 L1280.3 1132.4" fill="none" stroke="#000" stroke-width="6.5" stroke-linejoin="round" stroke-linecap="round"/>
<rect x="907.6" y="1165.7" width="30.4" height="30.4" fill="#fff" stroke="#000" stroke-width="4.2" stroke-linejoin="round"/>
<rect x="1026.3" y="1159" width="30.4" height="30.4" fill="#fff" stroke="#000" stroke-width="4.2" stroke-linejoin="round"/>
<rect x="1146.3" y="1139.8" width="30.4" height="30.4" fill="#fff" stroke="#000" stroke-width="4.2" stroke-linejoin="round"/>
<rect x="1265.1" y="1117.2" width="30.4" height="30.4" fill="#fff" stroke="#000" stroke-width="4.2" stroke-linejoin="round"/>
<path d="M922.8 1180 L927.74 1179.66 L932.69 1179.34 L937.63 1179.03 L942.57 1178.74 L947.51 1178.46 L952.44 1178.19 L957.38 1177.92 L962.32 1177.66 L967.26 1177.39 L972.19 1177.12 L977.13 1176.85 L982.07 1176.57 L987.01 1176.28 L991.95 1175.97 L996.89 1175.65 L1001.84 1175.31 L1006.78 1174.95 L1011.73 1174.56 L1016.69 1174.15 L1021.64 1173.71 L1026.6 1173.24 L1031.56 1172.73 L1036.53 1172.19 L1041.5 1171.6 L1046.48 1170.98 L1051.46 1170.31 L1056.45 1169.62 L1061.44 1168.89 L1066.44 1168.14 L1071.44 1167.36 L1076.44 1166.55 L1081.45 1165.71 L1086.46 1164.86 L1091.47 1163.99 L1096.48 1163.1 L1101.49 1162.19 L1106.51 1161.28 L1111.52 1160.35 L1116.53 1159.41 L1121.54 1158.46 L1126.55 1157.51 L1131.55 1156.56 L1136.56 1155.61 L1141.55 1154.65 L1146.55 1153.71 L1151.54 1152.76 L1156.52 1151.83 L1161.5 1150.9 L1166.47 1149.97 L1171.44 1149.04 L1176.41 1148.1 L1181.37 1147.15 L1186.33 1146.19 L1191.28 1145.22 L1196.24 1144.25 L1201.19 1143.27 L1206.14 1142.29 L1211.09 1141.31 L1216.03 1140.32 L1220.98 1139.33 L1225.92 1138.33 L1230.86 1137.33 L1235.8 1136.34 L1240.74 1135.34 L1245.69 1134.34 L1250.63 1133.34 L1255.57 1132.34 L1260.51 1131.35 L1265.46 1130.36 L1270.4 1129.37 L1275.35 1128.38 L1280.3 1127.4" fill="none" stroke="#000" stroke-width="6.5" stroke-linejoin="round" stroke-linecap="round"/>
<path d="M922.8 1161.9L940.4 1180L922.8 1198.1L905.2 1180Z" fill="#fff" stroke="#000" stroke-width="3.9" stroke-linejoin="round"/>
<path d="M1041.5 1153.5L1059.1 1171.6L1041.5 1189.7L1023.9 1171.6Z" fill="#fff" stroke="#000" stroke-width="3.9" stroke-linejoin="round"/>
<path d="M1161.5 1132.8L1179.1 1150.9L1161.5 1169L1143.9 1150.9Z" fill="#fff" stroke="#000" stroke-width="3.9" stroke-linejoin="round"/>
<path d="M1280.3 1109.3L1297.9 1127.4L1280.3 1145.5L1262.7 1127.4Z" fill="#fff" stroke="#000" stroke-width="3.9" stroke-linejoin="round"/>
<path d="M922.8 1179.2 L927.74 1177.48 L932.69 1175.77 L937.63 1174.07 L942.57 1172.37 L947.51 1170.68 L952.44 1169 L957.38 1167.31 L962.32 1165.63 L967.26 1163.95 L972.19 1162.26 L977.13 1160.58 L982.07 1158.89 L987.01 1157.19 L991.95 1155.49 L996.89 1153.78 L1001.84 1152.06 L1006.78 1150.33 L1011.73 1148.59 L1016.69 1146.83 L1021.64 1145.06 L1026.6 1143.27 L1031.56 1141.47 L1036.53 1139.64 L1041.5 1137.8 L1046.48 1135.92 L1051.46 1134.01 L1056.45 1132.06 L1061.44 1130.07 L1066.44 1128.06 L1071.44 1126.02 L1076.44 1123.97 L1081.45 1121.9 L1086.46 1119.82 L1091.47 1117.73 L1096.48 1115.64 L1101.49 1113.55 L1106.51 1111.47 L1111.52 1109.4 L1116.53 1107.34 L1121.54 1105.3 L1126.55 1103.29 L1131.55 1101.3 L1136.56 1099.35 L1141.55 1097.43 L1146.55 1095.55 L1151.54 1093.72 L1156.52 1091.93 L1161.5 1090.2 L1166.47 1088.52 L1171.44 1086.88 L1176.41 1085.28 L1181.37 1083.72 L1186.33 1082.2 L1191.28 1080.71 L1196.24 1079.24 L1201.19 1077.81 L1206.14 1076.39 L1211.09 1075 L1216.03 1073.62 L1220.98 1072.26 L1225.92 1070.91 L1230.86 1069.57 L1235.8 1068.24 L1240.74 1066.9 L1245.69 1065.57 L1250.63 1064.24 L1255.57 1062.89 L1260.51 1061.54 L1265.46 1060.18 L1270.4 1058.81 L1275.35 1057.41 L1280.3 1056" fill="none" stroke="#000" stroke-width="6.5" stroke-linejoin="round" stroke-linecap="round"/>
<path d="M1280.3 1038.7V1073.3M1274.7 1038.7H1285.9M1274.7 1073.3H1285.9" fill="none" stroke="#000" stroke-width="2.3" stroke-linecap="round"/>
<path d="M922.8 1162.3L939.5 1196.1L906.1 1196.1Z" fill="#fff" stroke="#000" stroke-width="4.2" stroke-linejoin="round"/>
<path d="M1041.5 1120.9L1058.2 1154.7L1024.8 1154.7Z" fill="#fff" stroke="#000" stroke-width="4.2" stroke-linejoin="round"/>
<path d="M1161.5 1073.3L1178.2 1107.1L1144.8 1107.1Z" fill="#fff" stroke="#000" stroke-width="4.2" stroke-linejoin="round"/>
<path d="M1280.3 1039.1L1297 1072.9L1263.6 1072.9Z" fill="#fff" stroke="#000" stroke-width="4.2" stroke-linejoin="round"/>
<rect x="452.4" y="974.3" width="144.4" height="119" fill="#fff" stroke="#000" stroke-width="2.2"/>
<path d="M452.4 1084.1H459.9" stroke="#000" stroke-width="2"/>
<text x="441.2" y="1096.5" font-size="25.5" text-anchor="end">0</text>
<path d="M452.4 1053.1H459.9" stroke="#000" stroke-width="2"/>
<text x="441.2" y="1066.6" font-size="25.5" text-anchor="end">10</text>
<path d="M452.4 1022.1H459.9" stroke="#000" stroke-width="2"/>
<text x="441.2" y="1034" font-size="25.5" text-anchor="end">20</text>
<path d="M452.4 991.1H459.9" stroke="#000" stroke-width="2"/>
<text x="441.2" y="999.9" font-size="25.5" text-anchor="end">30</text>
<path d="M452.7 1045 L493.6 1004.1 L534.8 993 L575.8 987.2" fill="none" stroke="#000" stroke-width="2.3" stroke-linejoin="round" stroke-linecap="round"/>
<path d="M452.7 1045 L493.6 1081.1 L534.8 1082.6 L575.8 1084.5" fill="none" stroke="#000" stroke-width="2.3" stroke-linejoin="round" stroke-linecap="round"/>
<rect x="445.8" y="1038.1" width="13.8" height="13.8" fill="#fff" stroke="#000" stroke-width="2.6" stroke-linejoin="round"/>
<rect x="486.7" y="1074.2" width="13.8" height="13.8" fill="#fff" stroke="#000" stroke-width="2.6" stroke-linejoin="round"/>
<rect x="527.9" y="1075.7" width="13.8" height="13.8" fill="#fff" stroke="#000" stroke-width="2.6" stroke-linejoin="round"/>
<rect x="568.9" y="1077.6" width="13.8" height="13.8" fill="#fff" stroke="#000" stroke-width="2.6" stroke-linejoin="round"/>
<path d="M493.6 992.4V1015.4M487.7 992.4H499.5M487.7 1015.4H499.5" fill="none" stroke="#000" stroke-width="2.2" stroke-linecap="round"/>
<path d="M534.8 984.5V1000.9M528.9 984.5H540.7M528.9 1000.9H540.7" fill="none" stroke="#000" stroke-width="2.2" stroke-linecap="round"/>
<path d="M575.8 978.6V995.7M569.9 978.6H581.7M569.9 995.7H581.7" fill="none" stroke="#000" stroke-width="2.2" stroke-linecap="round"/>
<path d="M452.7 1035.8L461.9 1045L452.7 1054.2L443.5 1045Z" fill="#fff" stroke="#000" stroke-width="2.7" stroke-linejoin="round"/>
<path d="M493.6 994.9L502.8 1004.1L493.6 1013.3L484.4 1004.1Z" fill="#fff" stroke="#000" stroke-width="2.7" stroke-linejoin="round"/>
<path d="M534.8 983.8L544 993L534.8 1002.2L525.6 993Z" fill="#fff" stroke="#000" stroke-width="2.7" stroke-linejoin="round"/>
<path d="M575.8 978L585 987.2L575.8 996.4L566.6 987.2Z" fill="#fff" stroke="#000" stroke-width="2.7" stroke-linejoin="round"/>
<text x="573.5" y="1026.5" font-size="34" text-anchor="end">-S</text>
<text x="573" y="1070.5" font-size="34" text-anchor="end">-N</text>
<circle cx="192.4" cy="98.1" r="12.3" fill="#fff" stroke="#000" stroke-width="3.2"/>
<rect x="181.35" y="127.15" width="22.1" height="22.1" fill="#fff" stroke="#000" stroke-width="2.7" stroke-linejoin="round"/>
<path d="M192.4 164.2L205.4 177L192.4 189.8L179.4 177Z" fill="#fff" stroke="#000" stroke-width="2.7" stroke-linejoin="round"/>
<path d="M192.4 208.3L204.5 228.9L180.3 228.9Z" fill="#fff" stroke="#000" stroke-width="2.7" stroke-linejoin="round"/>
<text x="218.74" y="109.9" font-size="33.5" text-anchor="start" textLength="228.46" lengthAdjust="spacingAndGlyphs">nutrient-replete</text>
<text x="218.81" y="149.9" font-size="33.5" text-anchor="start" textLength="147.28" lengthAdjust="spacingAndGlyphs">N-starved</text>
<text x="218.86" y="188.3" font-size="33.5" text-anchor="start" textLength="144.82" lengthAdjust="spacingAndGlyphs">S-starved</text>
<text x="218.82" y="231.1" font-size="33.5" text-anchor="start" textLength="144.86" lengthAdjust="spacingAndGlyphs">P-starved</text>
<circle cx="932" cy="98.1" r="12.3" fill="#fff" stroke="#000" stroke-width="3.2"/>
<rect x="920.95" y="127.15" width="22.1" height="22.1" fill="#fff" stroke="#000" stroke-width="2.7" stroke-linejoin="round"/>
<path d="M932 164.2L945 177L932 189.8L919 177Z" fill="#fff" stroke="#000" stroke-width="2.7" stroke-linejoin="round"/>
<path d="M932 208.3L944.1 228.9L919.9 228.9Z" fill="#fff" stroke="#000" stroke-width="2.7" stroke-linejoin="round"/>
<text x="957.03" y="109.9" font-size="33.5" text-anchor="start" textLength="229.79" lengthAdjust="spacingAndGlyphs">nutrient-replete</text>
<text x="956.98" y="149.9" font-size="33.5" text-anchor="start" textLength="149.14" lengthAdjust="spacingAndGlyphs">N-starved</text>
<text x="957.65" y="188.3" font-size="33.5" text-anchor="start" textLength="146.25" lengthAdjust="spacingAndGlyphs">S-starved</text>
<text x="956.99" y="231.1" font-size="33.5" text-anchor="start" textLength="146.41" lengthAdjust="spacingAndGlyphs">P-starved</text>
<circle cx="210.9" cy="844.1" r="12.3" fill="#fff" stroke="#000" stroke-width="3.2"/>
<rect x="199.85" y="873.35" width="22.1" height="22.1" fill="#fff" stroke="#000" stroke-width="2.7" stroke-linejoin="round"/>
<path d="M210.9 910.1L223.9 922.9L210.9 935.7L197.9 922.9Z" fill="#fff" stroke="#000" stroke-width="2.7" stroke-linejoin="round"/>
<path d="M210.9 954.4L223 975L198.8 975Z" fill="#fff" stroke="#000" stroke-width="2.7" stroke-linejoin="round"/>
<text x="236.13" y="856" font-size="33.5" text-anchor="start" textLength="229.48" lengthAdjust="spacingAndGlyphs">nutrient-replete</text>
<text x="236.2" y="896.2" font-size="33.5" text-anchor="start" textLength="148" lengthAdjust="spacingAndGlyphs">N-starved</text>
<text x="236.46" y="935.6" font-size="33.5" text-anchor="start" textLength="145.33" lengthAdjust="spacingAndGlyphs">S-starved</text>
<text x="236.21" y="977" font-size="33.5" text-anchor="start" textLength="145.58" lengthAdjust="spacingAndGlyphs">P-starved</text>
<circle cx="927.5" cy="879.7" r="12.3" fill="#fff" stroke="#000" stroke-width="3.2"/>
<rect x="916.45" y="908.35" width="22.1" height="22.1" fill="#fff" stroke="#000" stroke-width="2.7" stroke-linejoin="round"/>
<path d="M927.5 945.7L940.5 958.5L927.5 971.3L914.5 958.5Z" fill="#fff" stroke="#000" stroke-width="2.7" stroke-linejoin="round"/>
<path d="M927.5 989.6L939.6 1010.2L915.4 1010.2Z" fill="#fff" stroke="#000" stroke-width="2.7" stroke-linejoin="round"/>
<text x="953.84" y="890.8" font-size="33.5" text-anchor="start" textLength="228.57" lengthAdjust="spacingAndGlyphs">nutrient-replete</text>
<text x="953.51" y="930.9" font-size="33.5" text-anchor="start" textLength="147.59" lengthAdjust="spacingAndGlyphs">N-starved</text>
<text x="954.17" y="970.6" font-size="33.5" text-anchor="start" textLength="144.51" lengthAdjust="spacingAndGlyphs">S-starved</text>
<text x="953.82" y="1012.6" font-size="33.5" text-anchor="start" textLength="144.86" lengthAdjust="spacingAndGlyphs">P-starved</text>
<text x="190.3" y="61.6" font-size="40" text-anchor="start">a</text>
<text x="930.4" y="60.4" font-size="40" text-anchor="start" textLength="26.2" lengthAdjust="spacingAndGlyphs">b</text>
<text x="188.75" y="807.6" font-size="37" text-anchor="start" textLength="22.96" lengthAdjust="spacingAndGlyphs">c</text>
<text x="925" y="816.3" font-size="40" text-anchor="start" textLength="26.45" lengthAdjust="spacingAndGlyphs">d</text>
<text x="267.57" y="567.2" font-size="42" text-anchor="start" textLength="217.38" lengthAdjust="spacingAndGlyphs">Time (days)</text>
<text x="1006.37" y="567.2" font-size="42" text-anchor="start" textLength="218.6" lengthAdjust="spacingAndGlyphs">Time (days)</text>
<text x="267.57" y="1328.5" font-size="42" text-anchor="start" textLength="217.38" lengthAdjust="spacingAndGlyphs">Time (days)</text>
<text x="1006.37" y="1328.5" font-size="42" text-anchor="start" textLength="218.6" lengthAdjust="spacingAndGlyphs">Time (days)</text>
<text transform="translate(33.4 355.5) rotate(-90)" font-size="42.3">OD<tspan font-size="27" dy="9.5">730</tspan><tspan dy="-9.5"> value</tspan></text>
<text transform="translate(741.6 476.7) rotate(-90)" x="-2.2" font-size="43.3" textLength="478.92" lengthAdjust="spacingAndGlyphs">Chl content in the culture</text>
<text transform="translate(792 318.6) rotate(-90)" x="-2.03" font-size="43.3" textLength="10.93" lengthAdjust="spacingAndGlyphs">(</text>
<text transform="translate(792 300.5) rotate(-90)" x="0.84" font-size="43.3" textLength="22" lengthAdjust="spacingAndGlyphs" font-style="italic">μ</text>
<text transform="translate(792 264.2) rotate(-90)" x="-1.79" font-size="43.3" textLength="109.24" lengthAdjust="spacingAndGlyphs">g/mL)</text>
<text transform="translate(46.6 1210.2) rotate(-90)" x="-3.45" font-size="42.5" textLength="425.76" lengthAdjust="spacingAndGlyphs">PBS content (Relative)</text>
<text transform="translate(738.5 1251) rotate(-90)" x="-3.54" font-size="43.3" textLength="549.46" lengthAdjust="spacingAndGlyphs">Protein content in the culture</text>
<text transform="translate(790.3 1058.4) rotate(-90)" x="-2.03" font-size="43.3" textLength="10.93" lengthAdjust="spacingAndGlyphs">(</text>
<text transform="translate(790.3 1040.3) rotate(-90)" x="0.84" font-size="43.3" textLength="22" lengthAdjust="spacingAndGlyphs" font-style="italic">μ</text>
<text transform="translate(790.3 1004) rotate(-90)" x="-1.81" font-size="43.3" textLength="110.29" lengthAdjust="spacingAndGlyphs">g/mL)</text>
</svg>
</body></html>
